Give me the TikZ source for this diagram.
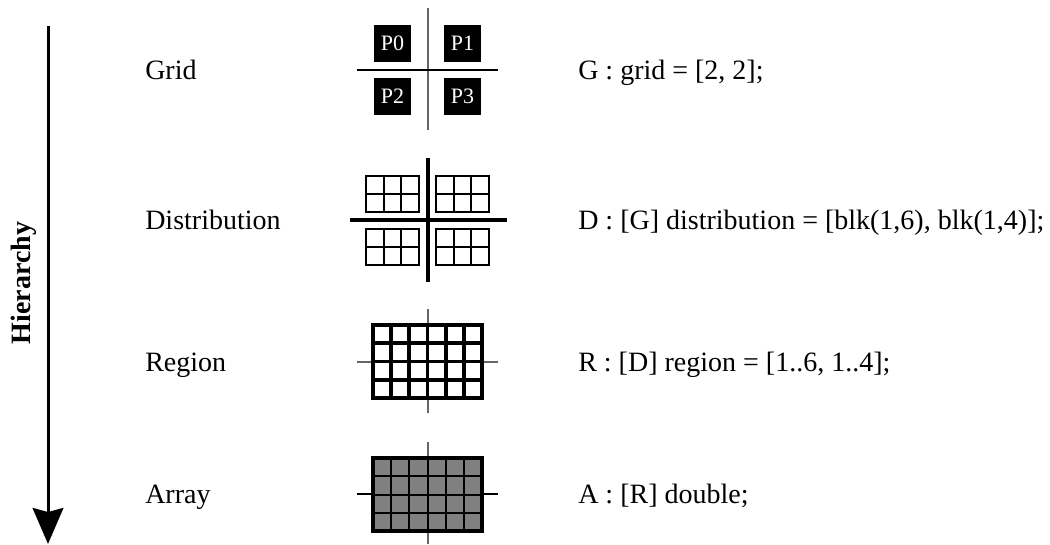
\documentclass[tikz,border=0pt]{standalone}
\usepackage{fontspec}
\setmainfont{Liberation Serif}
\usetikzlibrary{arrows.meta}
\begin{document}
\begin{tikzpicture}[x=0.75pt,y=-0.75pt,
  txt/.style={anchor=base west,font=\fontsize{21}{25}\selectfont,inner sep=0pt},
  pbox/.style={fill=black,text=white,minimum width=28pt,minimum height=27.75pt,inner sep=0pt,font=\fontsize{16.5}{19}\selectfont},
  axisg/.style={draw=black!60,line width=1.1pt},
  axisb/.style={draw=black,line width=1.1pt},
  axisthick/.style={draw=black,line width=2.4pt},
  blkline/.style={draw=black,line width=1.3pt},
  regline/.style={draw=black,line width=2.9pt},
  regouter/.style={draw=black,line width=3.6pt},
  arrline/.style={draw=black,line width=1.5pt},
  arrouter/.style={draw=black,line width=3.3pt},
  cellfill/.style={fill=black!50}
]
\useasboundingbox (0,0) rectangle (1050,544);

% hierarchy arrow
\coordinate (hs) at (48,26);
\coordinate (he) at (48,544);
\draw[line width=2.25pt,-{Stealth[length=27pt,width=23pt,inset=3pt]}] (hs) -- (he);
\node[rotate=90,anchor=base,font=\bfseries\fontsize{21}{25}\selectfont,inner sep=0pt] (hier) at (31,283) {Hierarchy};

% left labels
\node[txt] (lgrid) at (145,79) {Grid};
\node[txt] (ldist) at (145,229) {Distribution};
\node[txt] (lreg) at (145,371) {Region};
\node[txt] (larr) at (145,503) {Array};

% right code
\node[txt] (cgrid) at (578,79) {G : grid = [2, 2];};
\node[txt] (cdist) at (578,229) {D : [G] distribution = [blk(1,6), blk(1,4)];};
\node[txt] (creg) at (578,371) {R : [D] region = [1..6, 1..4];};
\node[txt] (carr) at (578,503) {A : [R] double;};

% ---- Grid ----
\draw[axisg] (428,8) -- (428,130);
\draw[axisb] (357,70) -- (498,70);
\node[pbox] (p0) at (392.5,43.5) {P0};
\node[pbox] (p1) at (462.5,43.5) {P1};
\node[pbox] (p2) at (392.5,96.5) {P2};
\node[pbox] (p3) at (462.5,96.5) {P3};

% ---- Distribution ----
\draw[axisthick] (428,158) -- (428,282);
\draw[axisthick] (350,220) -- (507,220);
\foreach \bx/\by in {366/176, 436/176, 366/229, 436/229}{
  \draw[blkline] (\bx,\by) rectangle ++(53,36);
  \draw[blkline] (\bx+17.67,\by) -- ++(0,36);
  \draw[blkline] (\bx+35.33,\by) -- ++(0,36);
  \draw[blkline] (\bx,\by+18) -- ++(53,0);
}

% ---- Region ----
\draw[axisg] (428,309) -- (428,413);
\draw[axisg] (357,362) -- (498,362);
\foreach \i in {1,...,5}{
  \draw[regline] (373+\i*18.1667,325) -- ++(0,73);
}
\foreach \j in {1,2,3}{
  \draw[regline] (373,325+\j*18.25) -- ++(109,0);
}
\draw[regouter] (373,325) rectangle (482,398);

% ---- Array ----
\draw[axisg] (428,442) -- (428,544);
\draw[axisb] (357,494) -- (498,494);
\fill[cellfill] (373,458) rectangle (482,531);
\foreach \i in {1,...,5}{
  \draw[arrline] (373+\i*18.1667,458) -- ++(0,73);
}
\foreach \j in {1,2,3}{
  \draw[arrline] (373,458+\j*18.25) -- ++(109,0);
}
\draw[arrouter] (373,458) rectangle (482,531);
\end{tikzpicture}
\end{document}
